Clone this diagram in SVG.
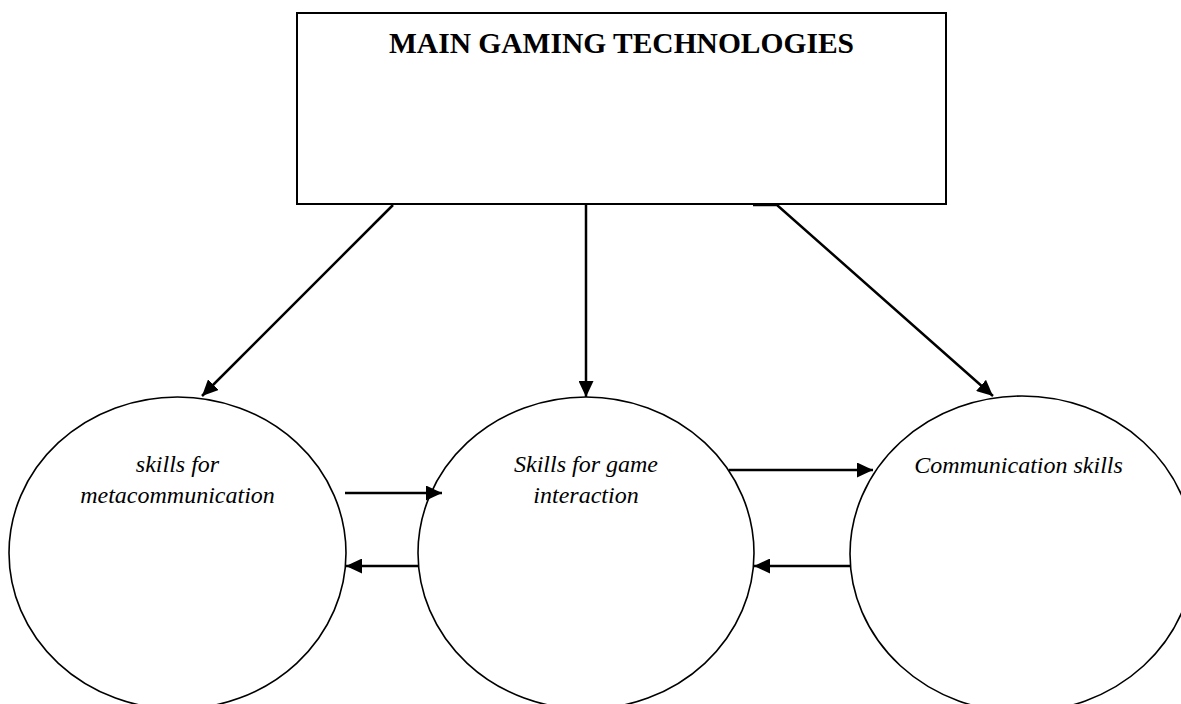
<svg xmlns="http://www.w3.org/2000/svg" width="1181" height="704" viewBox="0 0 1181 704">
<style>
.box{fill:#fff;stroke:#000;stroke-width:2}
.node{fill:#fff;stroke:#000;stroke-width:1.6}
.title{font-family:"Liberation Serif","Times New Roman",serif;font-weight:bold;font-size:29.5px;fill:#000}
.lbl{font-family:"Liberation Serif","Times New Roman",serif;font-style:italic;font-size:24px;fill:#000}
.conn{fill:none;stroke:#000;stroke-width:2.5}
</style>
<defs>
<marker id="ah" viewBox="0 0 16 15" refX="16" refY="7.5" markerWidth="16" markerHeight="15" markerUnits="userSpaceOnUse" orient="auto">
<path d="M0,0 L16,7.5 L0,15 Z" fill="#000"/>
</marker>
</defs>
<g id="node-main">
<rect class="box" x="297" y="13" width="649" height="191"/>
<text class="title" x="621.5" y="53" text-anchor="middle">MAIN GAMING TECHNOLOGIES</text>
</g>
<g id="node-meta">
<ellipse class="node" cx="177.5" cy="553" rx="168.5" ry="156"/>
<text class="lbl" x="177.5" y="472" text-anchor="middle">skills for</text>
<text class="lbl" x="177.5" y="503" text-anchor="middle">metacommunication</text>
</g>
<g id="node-game">
<ellipse class="node" cx="586" cy="553" rx="168" ry="156"/>
<text class="lbl" x="586" y="472" text-anchor="middle">Skills for game</text>
<text class="lbl" x="586" y="503" text-anchor="middle">interaction</text>
</g>
<g id="node-comm">
<ellipse class="node" cx="1022" cy="554" rx="172" ry="158"/>
<text class="lbl" x="1018.5" y="473" text-anchor="middle">Communication skills</text>
</g>
<g id="connectors">
<path class="conn" d="M393,205 L202,396" marker-end="url(#ah)"/>
<path class="conn" d="M586,205 L586,397" marker-end="url(#ah)"/>
<path class="conn" d="M753,205 L777,205 L993,396" marker-end="url(#ah)"/>
<path class="conn" d="M345,493 L442,493" marker-end="url(#ah)"/>
<path class="conn" d="M418,566 L346,566" marker-end="url(#ah)"/>
<path class="conn" d="M729,470 L873,470" marker-end="url(#ah)"/>
<path class="conn" d="M850,566 L754,566" marker-end="url(#ah)"/>
</g>
</svg>
